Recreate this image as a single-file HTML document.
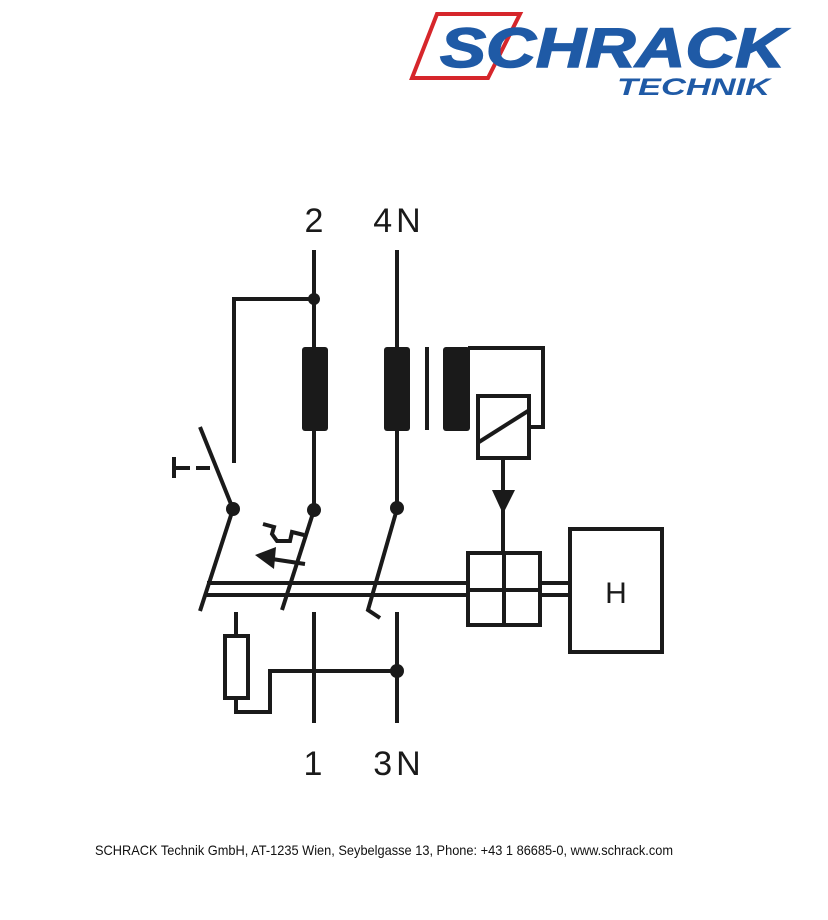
<!DOCTYPE html>
<html><head><meta charset="utf-8"><style>
html,body{margin:0;padding:0;background:#fff;width:828px;height:920px;overflow:hidden}
svg{position:absolute;left:0;top:0}
</style></head><body>
<svg width="828" height="920" viewBox="0 0 828 920" xmlns="http://www.w3.org/2000/svg">
<!-- logo -->
<polygon points="437,14 520,14 488,78 412,78" fill="none" stroke="#d6262b" stroke-width="4"/>
<text x="440" y="67" font-family="Liberation Sans, sans-serif" font-size="56" font-weight="bold" font-style="italic" fill="#1f5aa6" textLength="345" lengthAdjust="spacingAndGlyphs" stroke="#1f5aa6" stroke-width="1.5">SCHRACK</text>
<text x="617" y="95" font-family="Liberation Sans, sans-serif" font-size="24" font-weight="bold" font-style="italic" fill="#1f5aa6" textLength="153" lengthAdjust="spacingAndGlyphs">TECHNIK</text>

<g stroke="#1a1a1a" stroke-width="4" fill="none" stroke-linecap="butt">
<line x1="314" y1="250" x2="314" y2="510"/>
<polyline points="314,299 234,299 234,463"/>
<line x1="397" y1="250" x2="397" y2="508"/>
<line x1="427" y1="347" x2="427" y2="430"/>
<polyline points="468,348 543,348 543,427 530,427"/>
<rect x="478" y="396" width="51" height="62"/>
<line x1="479" y1="442" x2="528" y2="411"/>
<line x1="503" y1="458" x2="503" y2="553"/>
<rect x="468" y="553" width="72" height="72"/>
<line x1="504" y1="553" x2="504" y2="625"/>
<line x1="468" y1="590" x2="540" y2="590"/>
<line x1="207" y1="583" x2="468" y2="583"/>
<line x1="205" y1="595" x2="468" y2="595"/>
<line x1="540" y1="583" x2="570" y2="583"/>
<line x1="540" y1="595" x2="570" y2="595"/>
<rect x="570" y="529" width="92" height="123"/>
<line x1="200" y1="427" x2="233" y2="509"/>
<line x1="233" y1="509" x2="200" y2="611"/>
<line x1="174" y1="457" x2="174" y2="478"/>
<line x1="174" y1="468" x2="190" y2="468"/>
<line x1="196" y1="468" x2="210" y2="468"/>
<line x1="314" y1="510" x2="282" y2="610"/>
<polyline points="263,524 274,527 272,534 277,541 290,541 292,532 304,535"/>
<line x1="272" y1="559" x2="305" y2="564"/>
<polyline points="397,509 368,610 380,618"/>
<line x1="314" y1="612" x2="314" y2="723"/>
<line x1="397" y1="612" x2="397" y2="723"/>
<line x1="236" y1="612" x2="236" y2="636"/>
<rect x="225" y="636" width="23" height="62"/>
<polyline points="236,698 236,712 270,712 270,671 397,671"/>
</g>
<g fill="#1a1a1a">
<rect x="302" y="347" width="26" height="84" rx="3"/>
<rect x="384" y="347" width="26" height="84" rx="3"/>
<rect x="443" y="347" width="27" height="84" rx="3"/>
<circle cx="314" cy="299" r="6"/>
<circle cx="233" cy="509" r="7"/>
<circle cx="314" cy="510" r="7"/>
<circle cx="397" cy="508" r="7"/>
<circle cx="397" cy="671" r="7"/>
<polygon points="492,490 515,490 503,514"/>
<polygon points="255,555 276,547 274,569"/>
</g>
<g font-family="Liberation Sans, sans-serif" font-size="34" fill="#1a1a1a" text-anchor="middle">
<text x="314" y="232">2</text>
<text x="399" y="232" letter-spacing="4">4N</text>
<text x="313" y="775">1</text>
<text x="399" y="775" letter-spacing="4">3N</text>
<text x="616" y="603" font-size="30">H</text>
</g>
<text x="384" y="855" font-family="Liberation Sans, sans-serif" font-size="14" fill="#111" text-anchor="middle" textLength="578" lengthAdjust="spacingAndGlyphs">SCHRACK Technik GmbH, AT-1235 Wien, Seybelgasse 13, Phone: +43 1 86685-0, www.schrack.com</text>
</svg>
</body></html>
